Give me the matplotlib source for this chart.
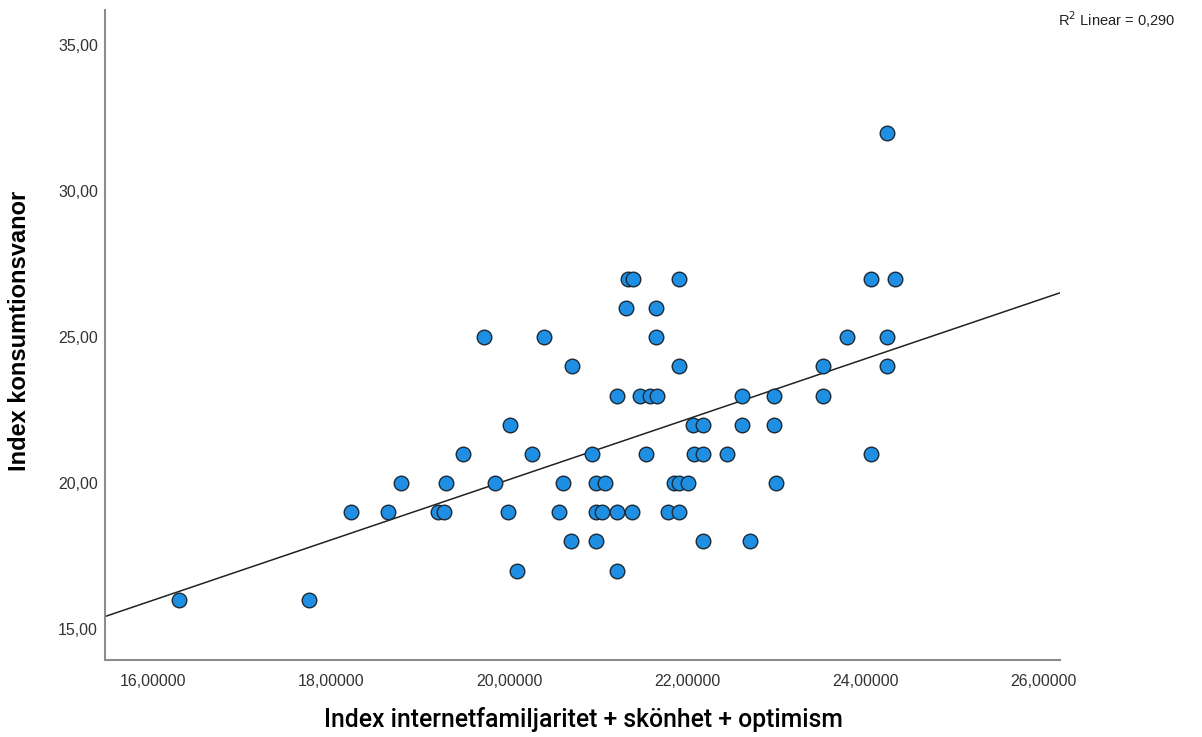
import matplotlib
matplotlib.use("Agg")
import matplotlib.pyplot as plt
import numpy as np

plt.rcParams['font.family'] = ['Liberation Sans', 'DejaVu Sans']

# index values per respondent, grouped by the y value they share
y_levels = [16, 17, 18, 19, 20, 21, 22, 23, 24, 25, 26, 27, 32]
x_by_level = [
    [16.29, 17.75],
    [20.09, 21.21],
    [20.69, 20.97, 22.18, 22.71],
    [18.22, 18.64, 19.20, 19.27, 19.99, 20.56, 20.97, 21.04, 21.21, 21.38, 21.78, 21.91],
    [18.79, 19.29, 19.84, 20.61, 20.97, 21.08, 21.85, 21.91, 22.01, 23.00],
    [19.48, 20.26, 20.93, 21.54, 22.08, 22.18, 22.45, 24.06],
    [20.01, 22.06, 22.18, 22.62, 22.97],
    [21.21, 21.47, 21.58, 21.66, 22.62, 22.97, 23.53],
    [20.71, 21.91, 23.53, 24.24],
    [19.72, 20.39, 21.65, 23.80, 24.24],
    [21.31, 21.65],
    [21.33, 21.39, 21.91, 24.06, 24.33],
    [24.24],
]
x_ticks = [16, 18, 20, 22, 24, 26]
y_ticks = [15, 20, 25, 30, 35]
r2_text = "0,290"

x = np.concatenate([np.array(v) for v in x_by_level])
y = np.concatenate([[lvl] * len(v) for lvl, v in zip(y_levels, x_by_level)]).astype(float)

fig = plt.figure(figsize=(12.02, 7.37), dpi=100)
ax = fig.add_axes([0.0874, 0.105, 0.7946, 0.881])

xmin, xmax = 15.46, 26.19
ax.set_xlim(xmin, xmax)
ax.set_ylim(13.95, 36.2)

# linear fit across the whole x range
k, m = np.polyfit(x, y, 1)
xs = np.array([xmin, xmax])
ax.plot(xs, k * xs + m, color="#222222", lw=1.1, zorder=2)

ax.scatter(x, y, s=110, color="#1e8fe3", edgecolors="#1c2a38", linewidths=1.0, zorder=3)

for side in ["top", "right"]:
    ax.spines[side].set_visible(False)
for side in ["left", "bottom"]:
    ax.spines[side].set_color("#8c8c8c")
    ax.spines[side].set_linewidth(1.5)

ax.set_xticks(x_ticks)
ax.set_xticklabels([f"{t:.5f}".replace(".", ",") for t in x_ticks])
ax.set_yticks(y_ticks)
ax.set_yticklabels([f"{t:.2f}".replace(".", ",") for t in y_ticks])
ax.tick_params(axis="x", length=0, pad=10, labelsize=11.5, labelcolor="#333333")
ax.tick_params(axis="y", length=0, pad=5, labelsize=11.5, labelcolor="#333333")

# axis titles placed in figure coordinates
fig.text(583 / 1202, 1 - 720 / 737, "Index internetfamiljaritet + skönhet + optimism",
         ha="center", va="center", fontsize=17.8,
         family=["Roboto", "DejaVu Sans"], fontweight="medium")
fig.text(20 / 1202, 1 - 331 / 737, "Index konsumtionsvanor", rotation=90,
         ha="center", va="center", fontsize=17, fontweight="bold")

fig.text(0.978, 1 - 20 / 737, "R$^2$ Linear = " + r2_text, ha="right", va="center",
         fontsize=10.5, color="#222222")

fig.savefig("out.png", dpi=100, facecolor="white")
